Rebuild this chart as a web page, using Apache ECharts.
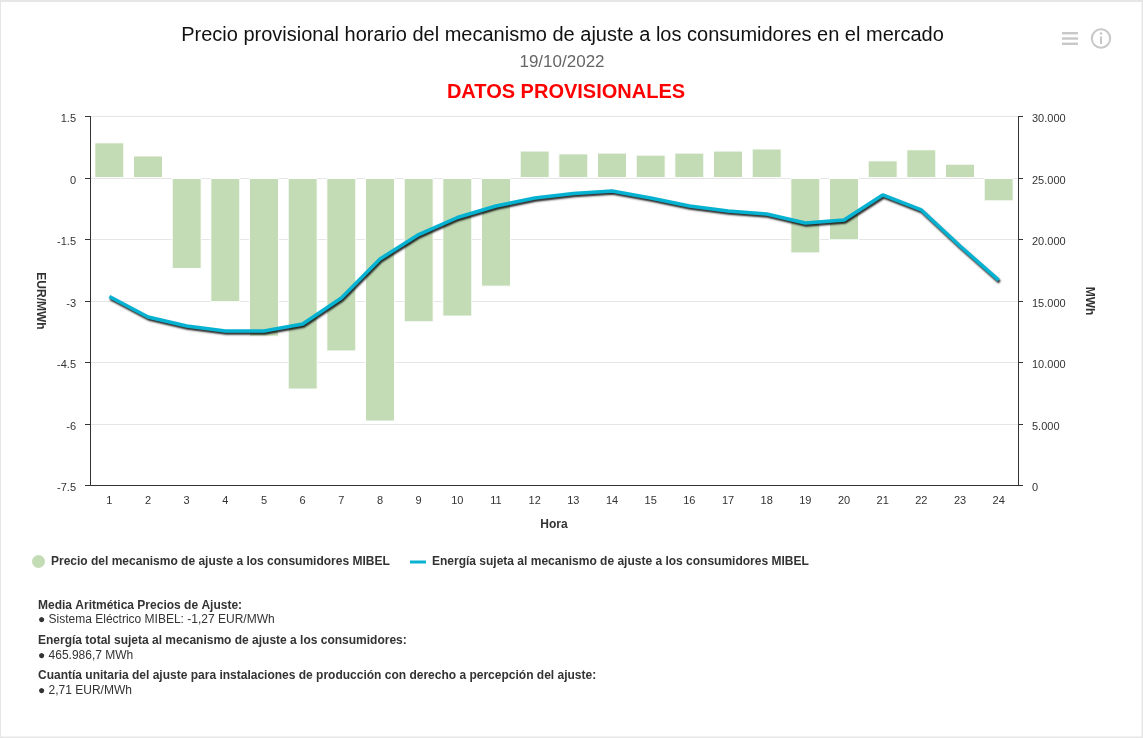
<!DOCTYPE html>
<html>
<head>
<meta charset="utf-8">
<style>
    html, body { margin: 0; padding: 0; background: #fff; }
    #chart { width: 1143px; height: 738px; }
</style>
<script src="https://cdn.jsdelivr.net/npm/echarts@6/dist/echarts.min.js"></script>
</head>
<body>
<div id="chart"></div>
<script>
// --- DATA ---
const horas = ['1','2','3','4','5','6','7','8','9','10','11','12','13','14','15','16','17','18','19','20','21','22','23','24'];
const precio = [0.87,0.55,-2.22,-3.03,-3.87,-5.16,-4.23,-5.94,-3.52,-3.38,-2.65,0.67,0.6,0.62,0.57,0.62,0.67,0.72,-1.84,-1.52,0.43,0.7,0.35,-0.57];
const energia = [15370,13700,12970,12560,12560,13130,15240,18410,20400,21790,22720,23370,23740,23940,23370,22720,22320,22070,21340,21580,23620,22400,19470,16700];
const serieNames = ['Precio del mecanismo de ajuste a los consumidores MIBEL', 'Energía sujeta al mecanismo de ajuste a los consumidores MIBEL'];
const titulo = 'Precio provisional horario del mecanismo de ajuste a los consumidores en el mercado';
const fecha = '19/10/2022';
const aviso = 'DATOS PROVISIONALES';
const notas = [
    ['Media Aritmética Precios de Ajuste:', '● Sistema Eléctrico MIBEL: -1,27 EUR/MWh'],
    ['Energía total sujeta al mecanismo de ajuste a los consumidores:', '● 465.986,7 MWh'],
    ['Cuantía unitaria del ajuste para instalaciones de producción con derecho a percepción del ajuste:', '● 2,71 EUR/MWh']
];
const notasY = [[606, 620], [641, 656], [676, 691]];

const FONT = '"Liberation Sans", Arial, sans-serif';
const AXIS_COLOR = '#333333';
const GRID_COLOR = '#e6e6e6';

// --- HELPERS ---
const txt = (x, y, text, size, color, weight, align) => ({
    type: 'text', x: x, y: y, silent: true,
    style: { text: text, fontFamily: FONT, fontSize: size, fill: color, fontWeight: weight || 'normal', align: align || 'left', verticalAlign: 'middle' }
});
const bar = (x, y) => ({ type: 'rect', silent: true, shape: { x: x, y: y, width: 16, height: 2.4 }, style: { fill: '#c8c8c8' } });

// marco de la pagina, texto e iconos
const graphics = [
    { type: 'rect', silent: true, z: -10, shape: { x: 1, y: 2, width: 1140.5, height: 734.5 }, style: { fill: '#ffffff' } },
    txt(562.5, 35, titulo, 20, '#111111', 'normal', 'center'),
    txt(562, 62, fecha, 17, '#666666', 'normal', 'center'),
    txt(566, 92, aviso, 20, '#ff0000', 'bold', 'center'),
    bar(1062, 32), bar(1062, 37.3), bar(1062, 42.6),
    { type: 'circle', silent: true, shape: { cx: 1101, cy: 38.5, r: 9.2 }, style: { fill: 'none', stroke: '#c8c8c8', lineWidth: 2 } },
    { type: 'circle', silent: true, shape: { cx: 1101, cy: 33.5, r: 1.3 }, style: { fill: '#c8c8c8' } },
    { type: 'rect', silent: true, shape: { x: 1100, y: 36.5, width: 2, height: 7.5 }, style: { fill: '#c8c8c8' } }
];
notas.forEach((n, i) => {
    graphics.push(txt(38, notasY[i][0], n[0], 12, '#333333', 'bold'));
    graphics.push(txt(38, notasY[i][1], n[1], 12, '#333333'));
});

const chart = echarts.init(document.getElementById('chart'), null, { renderer: 'canvas' });
chart.setOption({
    animation: false,
    backgroundColor: GRID_COLOR,
    textStyle: { fontFamily: FONT },
    graphic: graphics,
    legend: [
        { data: [{ name: serieNames[0], icon: 'circle' }], left: 25, top: 548, itemWidth: 15, itemHeight: 15, itemGap: 5, textStyle: { color: '#333333', fontSize: 12, fontWeight: 'bold', fontFamily: FONT }, selectedMode: false },
        { data: [{ name: serieNames[1], icon: 'rect' }], left: 405, top: 551, itemWidth: 16, itemHeight: 3, itemGap: 5, textStyle: { color: '#333333', fontSize: 12, fontWeight: 'bold', fontFamily: FONT, padding: [0, 0, 0, 1] }, selectedMode: false }
    ],
    grid: { left: 90, top: 116.5, width: 928, height: 369, containLabel: false },
    xAxis: {
        type: 'category', data: horas, boundaryGap: true,
        name: 'Hora', nameLocation: 'middle', nameGap: 33,
        nameTextStyle: { color: '#333333', fontSize: 12, fontWeight: 'bold' },
        axisLine: { onZero: false, lineStyle: { color: AXIS_COLOR, width: 1 } },
        axisTick: { alignWithLabel: false, length: 5, lineStyle: { color: AXIS_COLOR } },
        axisLabel: { color: '#333333', fontSize: 11, margin: 10, interval: 0 }
    },
    yAxis: [
        {
            type: 'value', min: -7.5, max: 1.5, interval: 1.5,
            name: 'EUR/MWh', nameLocation: 'middle', nameGap: 43, nameRotate: -90,
            nameTextStyle: { color: '#333333', fontSize: 12, fontWeight: 'bold' },
            axisLine: { show: true, onZero: false, lineStyle: { color: AXIS_COLOR } },
            axisTick: { show: true, length: 5, lineStyle: { color: AXIS_COLOR } },
            axisLabel: { color: '#333333', fontSize: 11, margin: 14, lineHeight: 5, height: 5, verticalAlign: 'top' },
            splitLine: { show: true, lineStyle: { color: GRID_COLOR, width: 1 } }
        },
        {
            type: 'value', min: 0, max: 30000, interval: 5000, position: 'right',
            name: 'MWh', nameLocation: 'middle', nameGap: 65, nameRotate: -90,
            nameTextStyle: { color: '#333333', fontSize: 12, fontWeight: 'bold' },
            axisLine: { show: true, onZero: false, lineStyle: { color: AXIS_COLOR } },
            axisTick: { show: true, length: 5, lineStyle: { color: AXIS_COLOR } },
            axisLabel: { color: '#333333', fontSize: 11, margin: 14, lineHeight: 5, height: 5, verticalAlign: 'top', formatter: v => String(v).replace(/\B(?=(\d{3})+$)/g, '.') },
            splitLine: { show: false }
        }
    ],
    series: [
        {
            name: serieNames[0], type: 'bar', data: precio, yAxisIndex: 0, barWidth: 30,
            itemStyle: { color: '#c3dcb6', borderColor: '#ffffff', borderWidth: 1 }
        },
        {
            name: serieNames[1], type: 'line', data: energia, yAxisIndex: 1, showSymbol: false, symbol: 'none',
            itemStyle: { color: '#06b2d1' },
            lineStyle: { color: '#06b2d1', width: 3.5, shadowColor: 'rgba(0,0,0,0.85)', shadowBlur: 2, shadowOffsetX: 1, shadowOffsetY: 2 }
        }
    ]
});
</script>
</body>
</html>
